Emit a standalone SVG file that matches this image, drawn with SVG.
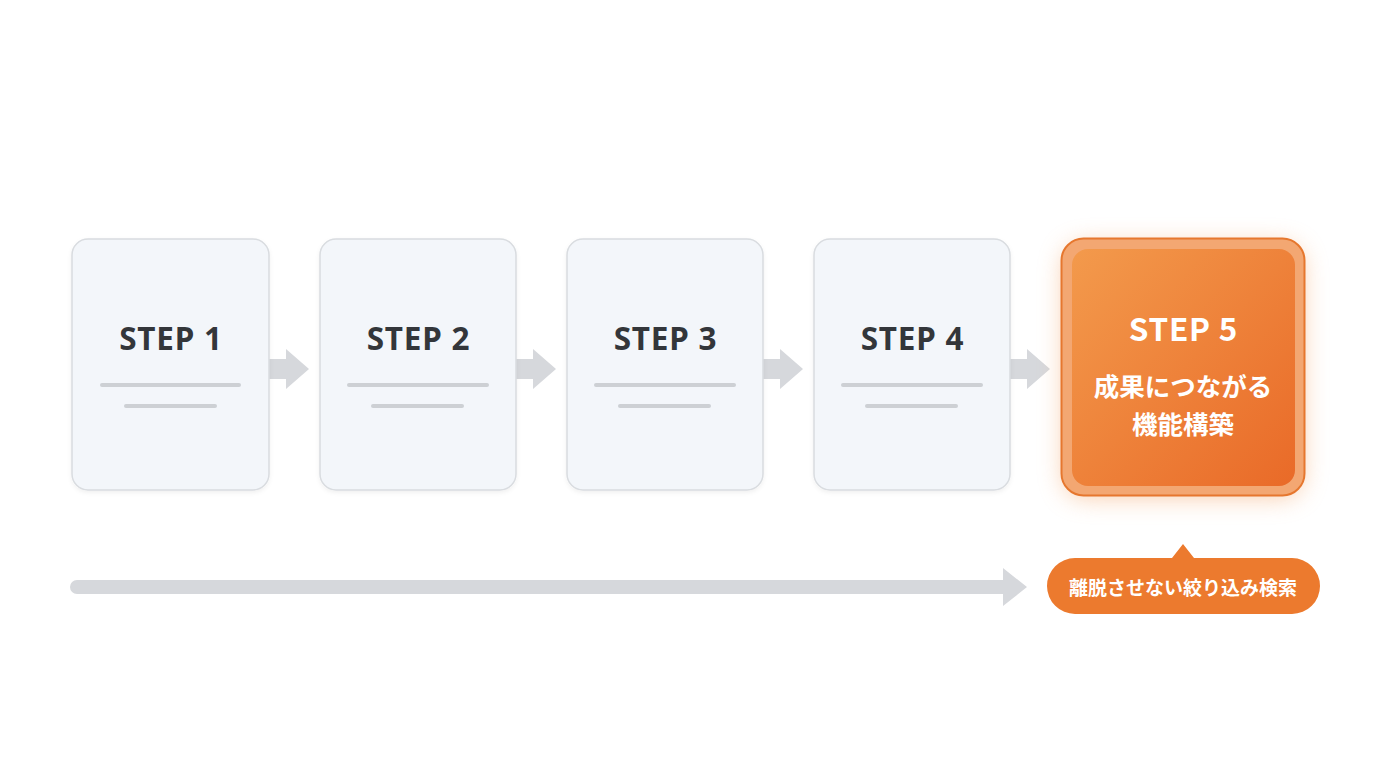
<svg xmlns="http://www.w3.org/2000/svg" width="1376" height="768" viewBox="0 0 1376 768">
<style>
.card{fill:#F3F6FA;stroke:#D9DCE0;stroke-width:1.5}
.step{font-family:"Noto Sans","Open Sans","Liberation Sans",sans-serif;font-weight:700;font-size:31.5px;letter-spacing:0.8px;fill:#33363A;text-anchor:middle}
.bar{stroke:#CDD0D4;stroke-width:4;stroke-linecap:round}
.arr{fill:#D6D8DC}
.wt{font-family:"Noto Sans CJK JP","Noto Sans",sans-serif;font-weight:700;fill:#FFFFFF;text-anchor:middle}
</style>
<defs>
<linearGradient id="og" x1="0" y1="0" x2="1" y2="1">
<stop offset="0" stop-color="#F39A4C"/>
<stop offset="1" stop-color="#E96A28"/>
</linearGradient>
<filter id="glow" x="-30%" y="-30%" width="160%" height="160%">
<feGaussianBlur stdDeviation="12"/>
</filter>
<filter id="sh" x="-10%" y="-10%" width="120%" height="130%">
<feDropShadow dx="0" dy="2" stdDeviation="2" flood-color="#000" flood-opacity="0.06"/>
</filter>
</defs>
<rect width="1376" height="768" fill="#FFFFFF"/>
<g id="connectors">
<path class="arr" d="M269 359 H286 V349 L309 369 L286 389 V379 H269 Z"/>
<path class="arr" d="M516 359 H533 V349 L556 369 L533 389 V379 H516 Z"/>
<path class="arr" d="M763 359 H780 V349 L803 369 L780 389 V379 H763 Z"/>
<path class="arr" d="M1010 359 H1027 V349 L1050 369 L1027 389 V379 H1010 Z"/>
<path class="arr" d="M77 580 H1003 V568 L1027 587 L1003 606 V594 H77 A7 7 0 0 1 77 580 Z"/>
</g>
<g id="step1">
<rect class="card" x="72" y="239" width="197" height="251" rx="16" filter="url(#sh)"/>
<text class="step" x="171" y="350">STEP 1</text>
<line class="bar" x1="102" y1="385" x2="239" y2="385"/>
<line class="bar" x1="126" y1="406" x2="215" y2="406"/>
</g>
<g id="step2">
<rect class="card" x="320" y="239" width="196" height="251" rx="16" filter="url(#sh)"/>
<text class="step" x="418.5" y="350">STEP 2</text>
<line class="bar" x1="349" y1="385" x2="487" y2="385"/>
<line class="bar" x1="373" y1="406" x2="462" y2="406"/>
</g>
<g id="step3">
<rect class="card" x="567" y="239" width="196" height="251" rx="16" filter="url(#sh)"/>
<text class="step" x="665.5" y="350">STEP 3</text>
<line class="bar" x1="596" y1="385" x2="734" y2="385"/>
<line class="bar" x1="620" y1="406" x2="709" y2="406"/>
</g>
<g id="step4">
<rect class="card" x="814" y="239" width="196" height="251" rx="16" filter="url(#sh)"/>
<text class="step" x="912.5" y="350">STEP 4</text>
<line class="bar" x1="843" y1="385" x2="981" y2="385"/>
<line class="bar" x1="867" y1="406" x2="956" y2="406"/>
</g>
<g id="step5">
<rect x="1063" y="244" width="240" height="254" rx="22" fill="#F4A060" opacity="0.5" filter="url(#glow)"/>
<rect x="1061.5" y="238.5" width="243" height="257" rx="22" fill="#F3A772" stroke="#E6772E" stroke-width="2"/>
<rect x="1072" y="249" width="223" height="237" rx="16" fill="url(#og)"/>
<text class="wt" x="1183.5" y="341" font-size="31.5" letter-spacing="0.8" font-family="Noto Sans, Open Sans, sans-serif">STEP 5</text>
<text class="wt" x="1183" y="396" font-size="25.5">成果につながる</text>
<text class="wt" x="1183" y="434" font-size="25.5">機能構築</text>
</g>
<g id="callout">
<path d="M1075 558 H1172 L1183 544 L1194 558 H1292 A28 28 0 0 1 1292 614 H1075 A28 28 0 0 1 1075 558 Z" fill="#EC7A2E"/>
<text class="wt" x="1183" y="595" font-size="19">離脱させない絞り込み検索</text>
</g>
</svg>
